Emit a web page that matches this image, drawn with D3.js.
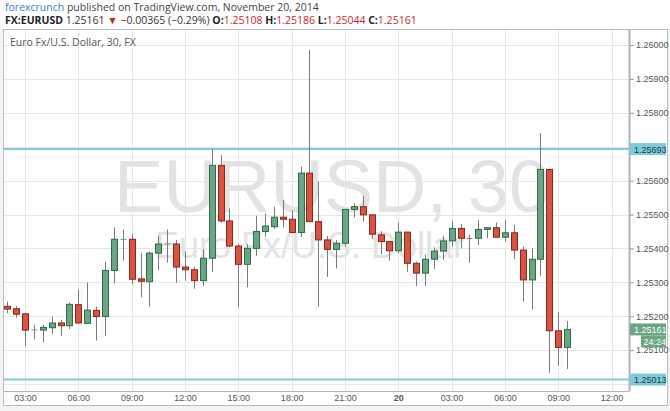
<!DOCTYPE html>
<html><head><meta charset="utf-8">
<script src="https://cdn.jsdelivr.net/npm/d3@7/dist/d3.min.js"></script>
<style>
html,body{margin:0;padding:0;background:#f1f3f5;}
svg{display:block;}
</style></head>
<body>
<svg id="chart" width="670" height="411"></svg>
<script>
// ---- data ----
const startTime = "2014-11-19T02:00:00Z"; // first 30-minute bar
const barMinutes = 30;
const open  = [1.25229,1.25222,1.25207,1.25160,1.25159,1.25166,1.25180,1.25172,1.25234,1.25179,1.25217,1.25199,1.25335,1.25427,1.25427,1.25310,1.25302,1.25386,1.25413,1.25413,1.25345,1.25337,1.25305,1.25371,1.25645,1.25481,1.25407,1.25353,1.25400,1.25450,1.25464,1.25492,1.25486,1.25447,1.25622,1.25479,1.25425,1.25397,1.25415,1.25515,1.25523,1.25499,1.25440,1.25420,1.25393,1.25448,1.25356,1.25327,1.25368,1.25392,1.25422,1.25459,1.25431,1.25430,1.25456,1.25461,1.25433,1.25446,1.25395,1.25307,1.25368,1.25633,1.25157,1.25108];
const high  = [1.25243,1.25230,1.25209,1.25174,1.25174,1.25199,1.25189,1.25240,1.25279,1.25299,1.25228,1.25360,1.25462,1.25456,1.25442,1.25387,1.25390,1.25437,1.25456,1.25425,1.25391,1.25346,1.25397,1.25692,1.25675,1.25518,1.25413,1.25413,1.25496,1.25503,1.25523,1.25543,1.25513,1.25641,1.25985,1.25597,1.25437,1.25425,1.25516,1.25533,1.25555,1.25500,1.25451,1.25421,1.25476,1.25449,1.25361,1.25381,1.25403,1.25437,1.25481,1.25472,1.25440,1.25484,1.25462,1.25476,1.25484,1.25469,1.25405,1.25400,1.25740,1.25635,1.25213,1.25186];
const low   = [1.25209,1.25196,1.25112,1.25132,1.25122,1.25148,1.25142,1.25162,1.25178,1.25177,1.25128,1.25142,1.25297,1.25364,1.25295,1.25256,1.25228,1.25336,1.25358,1.25299,1.25305,1.25281,1.25289,1.25330,1.25476,1.25405,1.25228,1.25285,1.25378,1.25434,1.25458,1.25462,1.25445,1.25434,1.25478,1.25228,1.25316,1.25341,1.25405,1.25491,1.25479,1.25428,1.25383,1.25364,1.25386,1.25331,1.25289,1.25289,1.25339,1.25366,1.25405,1.25400,1.25358,1.25410,1.25430,1.25432,1.25420,1.25368,1.25243,1.25220,1.25319,1.25033,1.25054,1.25044];
const close = [1.25221,1.25206,1.25159,1.25161,1.25167,1.25180,1.25172,1.25235,1.25180,1.25218,1.25199,1.25335,1.25427,1.25428,1.25309,1.25303,1.25386,1.25413,1.25415,1.25345,1.25337,1.25305,1.25371,1.25645,1.25481,1.25407,1.25353,1.25400,1.25450,1.25466,1.25492,1.25486,1.25447,1.25622,1.25479,1.25425,1.25397,1.25415,1.25515,1.25523,1.25499,1.25442,1.25420,1.25393,1.25448,1.25356,1.25327,1.25368,1.25392,1.25422,1.25459,1.25430,1.25430,1.25456,1.25461,1.25433,1.25446,1.25395,1.25307,1.25368,1.25633,1.25157,1.25108,1.25161];
const priceTicks = [1.25000,1.25100,1.25200,1.25300,1.25400,1.25500,1.25600,1.25700,1.25800,1.25900,1.26000];
const hiddenPriceLabels = [1.25000,1.25700]; // covered by the line tags in the reference
const timeTicks = ["2014-11-19T03:00:00Z","2014-11-19T06:00:00Z","2014-11-19T09:00:00Z","2014-11-19T12:00:00Z","2014-11-19T15:00:00Z","2014-11-19T18:00:00Z","2014-11-19T21:00:00Z","2014-11-20T00:00:00Z","2014-11-20T03:00:00Z","2014-11-20T06:00:00Z","2014-11-20T09:00:00Z","2014-11-20T12:00:00Z"];
const timeTickLabels = ["03:00","06:00","09:00","12:00","15:00","18:00","21:00","20","03:00","06:00","09:00","12:00"];
const hLines = [1.25693, 1.25013];
const lastPrice = 1.25161;
const countdown = "24:24";
const symbol = "FX:EURUSD";
const change = "\u22120.00365 (\u22120.29%)";
const chartTitle = "Euro Fx/U.S. Dollar, 30, FX";

// ---- layout ----
const svg = d3.select("#chart");
const L = 4, R = 629, T = 30, B = 391;
const t0 = new Date(startTime);
const bars = open.map((o,i)=>({t:d3.utcMinute.offset(t0, i*barMinutes), o, h:high[i], l:low[i], c:close[i]}));
const tickDates = timeTicks.map(s=>new Date(s));

const x = d3.scaleUtc().domain([tickDates[0], tickDates[tickDates.length-1]]).range([25, 611.6]);
const y = d3.scaleLinear().domain([1.25, 1.26]).range([384, 45]);

// backgrounds
svg.append("rect").attr("x",0).attr("y",0).attr("width",670).attr("height",411).attr("fill","#f1f3f5");
svg.append("rect").attr("x",0).attr("y",0).attr("width",670).attr("height",29).attr("fill","#ffffff");
svg.append("rect").attr("x",3.5).attr("y",29.5).attr("width",664).attr("height",376).attr("fill","#ffffff").attr("stroke","#b9bcbf");

svg.append("clipPath").attr("id","plotclip").append("rect").attr("x",L).attr("y",T).attr("width",R-L).attr("height",B-T);
const plot = svg.append("g").attr("clip-path","url(#plotclip)");

// grid
plot.append("g").selectAll("line").data(priceTicks).join("line")
  .attr("x1",L).attr("x2",R).attr("y1",d=>Math.round(y(d))+0.5).attr("y2",d=>Math.round(y(d))+0.5)
  .attr("stroke","#e6e6e6").attr("stroke-width",1);
plot.append("g").selectAll("line").data(tickDates).join("line")
  .attr("y1",T).attr("y2",B).attr("x1",d=>Math.round(x(d))+0.5).attr("x2",d=>Math.round(x(d))+0.5)
  .attr("stroke","#e6e6e6").attr("stroke-width",1);

// watermark
const wm = plot.append("g").attr("font-family","'Liberation Sans', Arial, sans-serif").attr("fill","#e3e3e3").attr("text-anchor","middle");
wm.append("text").attr("x",332).attr("y",212).attr("font-size",74).text("EURUSD, 30");
wm.append("text").attr("x",310).attr("y",258).attr("font-size",36).text("Euro Fx/U.S. Dollar");

// chart title
svg.append("text").attr("x",10).attr("y",46).attr("font-family","'Open Sans', sans-serif").attr("font-size",10.5).attr("fill","#555").text(chartTitle);

// horizontal lines
plot.append("g").selectAll("line").data(hLines).join("line")
  .attr("x1",L).attr("x2",R).attr("y1",d=>y(d)).attr("y2",d=>y(d))
  .attr("stroke","#7fcbd9").attr("stroke-width",2);

// candles
const bw = 6;
const cg = plot.append("g");
const up = "#6ba583", upEdge = "#2e6b47", dn = "#d75442", dnEdge = "#8a2518", wick = "#7a7a7a";
cg.selectAll("line.wick").data(bars).join("line").attr("class","wick")
  .attr("x1",d=>Math.round(x(d.t))+0.5).attr("x2",d=>Math.round(x(d.t))+0.5)
  .attr("y1",d=>y(d.h)).attr("y2",d=>y(d.l)).attr("stroke",wick).attr("stroke-width",1);
cg.selectAll("rect.body").data(bars).join("rect").attr("class","body")
  .attr("x",d=>Math.round(x(d.t))-bw/2+0.5).attr("width",bw)
  .attr("y",d=>y(Math.max(d.o,d.c)))
  .attr("height",d=>Math.max(1, y(Math.min(d.o,d.c))-y(Math.max(d.o,d.c))))
  .attr("fill",d=>d.c>=d.o?up:dn)
  .attr("stroke",d=>Math.abs(d.c-d.o)<0.00004?"none":(d.c>=d.o?upEdge:dnEdge))
  .attr("stroke-width",1);

// axes lines
svg.append("line").attr("x1",R+0.5).attr("x2",R+0.5).attr("y1",T).attr("y2",B+0.5).attr("stroke","#b0b3b6").attr("stroke-width",2);
svg.append("line").attr("x1",L).attr("x2",R).attr("y1",B+0.5).attr("y2",B+0.5).attr("stroke","#b0b3b6").attr("stroke-width",1);

// y axis
const yAxis = d3.axisRight(y).tickValues(priceTicks).tickFormat(d3.format(".5f")).tickSize(4).tickPadding(2);
const ya = svg.append("g").attr("transform",`translate(${R+1},0)`).call(yAxis);
ya.select(".domain").remove();
ya.selectAll("line").attr("stroke","#999");
ya.selectAll("text").attr("font-family","'Liberation Sans', Arial, sans-serif").attr("font-size",9).attr("fill","#555");
ya.selectAll(".tick").filter(d=>hiddenPriceLabels.some(h=>Math.abs(h-d)<1e-9)).select("text").remove();

// x axis
const xAxis = d3.axisBottom(x).tickValues(tickDates).tickFormat((d,i)=>timeTickLabels[i]).tickSize(0).tickPadding(4);
const xa = svg.append("g").attr("transform",`translate(0,${B})`).call(xAxis);
xa.select(".domain").remove();
xa.selectAll("text").attr("font-family","'Liberation Sans', Arial, sans-serif").attr("font-size",9).attr("fill","#555")
  .attr("font-weight",(d,i)=>timeTickLabels[i].length<3?"bold":"normal");

// price labels
function tag(v, bg, fg, txt, dy){
  const g = svg.append("g").attr("transform",`translate(${R+1},${y(v)+(dy||0)})`);
  g.append("rect").attr("x",0).attr("y",-6).attr("width",36).attr("height",12).attr("fill",bg);
  g.append("text").attr("x",4).attr("y",3.5).attr("font-family","'Liberation Sans', Arial, sans-serif").attr("font-size",9).attr("fill",fg).text(txt);
  return g;
}
hLines.forEach(v=>tag(v,"#7fcbd9","#1d3b40",d3.format(".5f")(v)));
tag(lastPrice,"#6ba583","#ffffff",d3.format(".5f")(lastPrice));
const cd = svg.append("g").attr("transform",`translate(${R+12},${y(lastPrice)+12})`);
cd.append("rect").attr("x",0).attr("y",-6).attr("width",25).attr("height",12).attr("fill","#6ba583");
cd.append("text").attr("x",2.5).attr("y",3.5).attr("font-family","'Liberation Sans', Arial, sans-serif").attr("font-size",9).attr("fill","#fff").text(countdown);

// header
const h1 = svg.append("text").attr("x",5).attr("y",11).attr("font-family","'Open Sans', sans-serif").attr("font-size",10.5).attr("fill","#444");
h1.append("tspan").attr("fill","#3b7dc4").text("forexcrunch");
h1.append("tspan").text(" published on TradingView.com, November 20, 2014");
const h2 = svg.append("text").attr("x",5).attr("y",24).attr("font-family","'Open Sans', sans-serif").attr("font-size",10.5).attr("fill","#333");
h2.append("tspan").attr("font-weight","bold").attr("fill","#222").text(symbol);
h2.append("tspan").text(" " + d3.format(".5f")(close[close.length-1]) + " ");
h2.append("tspan").attr("fill","#c8261e").text("\u25BC");
h2.append("tspan").text(" " + change + " ");
const last = bars[bars.length-1];
[["O",last.o],["H",last.h],["L",last.l],["C",last.c]].forEach(([k,v])=>{
  h2.append("tspan").attr("font-weight","bold").attr("fill","#222").text(k+":");
  h2.append("tspan").attr("fill","#c8261e").text(d3.format(".5f")(v)+" ");
});
</script>
</body></html>
